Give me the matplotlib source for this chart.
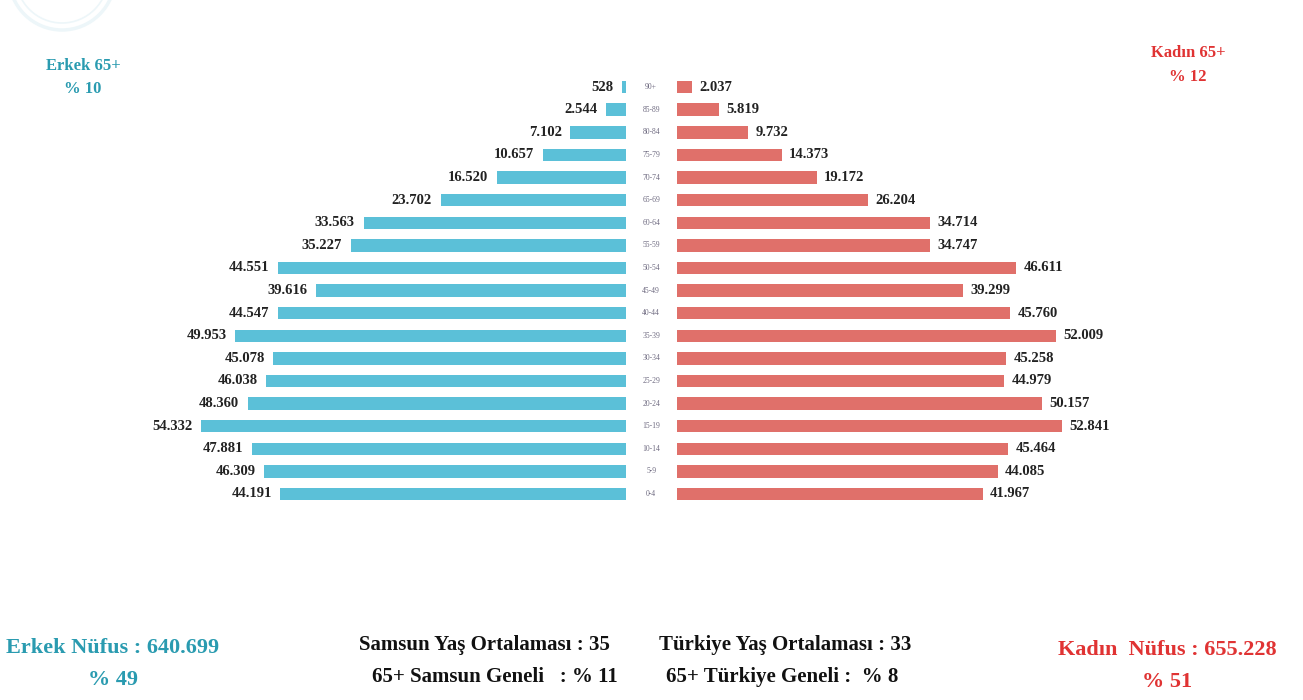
import matplotlib.pyplot as plt
from matplotlib.patches import Ellipse

plt.rcParams['font.family'] = ['Liberation Serif', 'DejaVu Serif']
plt.rcParams['font.weight'] = 'bold'

# age groups, from youngest to oldest
age_groups = ['0-4', '5-9', '10-14', '15-19', '20-24', '25-29', '30-34', '35-39',
              '40-44', '45-49', '50-54', '55-59', '60-64', '65-69', '70-74',
              '75-79', '80-84', '85-89', '90+']
male = [44191, 46309, 47881, 54332, 48360, 46038, 45078, 49953, 44547, 39616,
        44551, 35227, 33563, 23702, 16520, 10657, 7102, 2544, 528]
female = [41967, 44085, 45464, 52841, 50157, 44979, 45258, 52009, 45760, 39299,
          46611, 34747, 34714, 26204, 19172, 14373, 9732, 5819, 2037]

male_color = '#5bc0d8'
female_color = '#e0706a'
male_text = '#2a9bb0'
female_text = '#e03333'


def fmt(v):
    return f"{v:,}".replace(',', '.')


fig = plt.figure(figsize=(13.03, 7.0), dpi=100)
W, H = 1303, 700
span = 469  # axes width in pixels
male_max = span / 0.00782
female_max = span / 0.00728
bottom = (H - 505.3) / H
height = 429.5 / H

# faint logo watermark in the corner
for r, lw in [(53, 2.5), (46, 1.2)]:
    fig.patches.append(Ellipse((62 / W, 1 + 23 / H), 2 * r / W, 2 * r / H,
                               transform=fig.transFigure, fill=False,
                               ec='#edf6f9', lw=lw))

ax_m = fig.add_axes([(626 - span) / W, bottom, span / W, height])
ax_f = fig.add_axes([677 / W, bottom, span / W, height])

ypos = list(range(len(age_groups)))
ax_m.barh(ypos, male, height=0.55, color=male_color)
ax_f.barh(ypos, female, height=0.55, color=female_color)

ax_m.set_xlim(male_max, 0)
ax_f.set_xlim(0, female_max)
for ax in (ax_m, ax_f):
    ax.set_ylim(-0.5, len(age_groups) - 0.5)
    ax.axis('off')

for y, v in zip(ypos, male):
    ax_m.text(v + 1100, y, fmt(v), ha='right', va='center', fontsize=10.5,
              color='#222222', fontweight='bold')
for y, v in zip(ypos, female):
    ax_f.text(v + 1000, y, fmt(v), ha='left', va='center', fontsize=10.5,
              color='#222222', fontweight='bold')

# age labels between the two halves
for y, g in zip(ypos, age_groups):
    ax_f.text(-3550, y, g, ha='center', va='center', fontsize=5.5,
              color='#6e6a80', fontweight='normal', clip_on=False)

# annotations
fig.text(83 / W, 1 - 66 / H, 'Erkek 65+', ha='center', va='center', fontsize=12, color=male_text, fontweight='bold')
fig.text(83 / W, 1 - 89 / H, '% 10', ha='center', va='center', fontsize=12, color=male_text, fontweight='bold')
fig.text(1188 / W, 1 - 53 / H, 'Kadın 65+', ha='center', va='center', fontsize=12, color=female_text, fontweight='bold')
fig.text(1188 / W, 1 - 77 / H, '% 12', ha='center', va='center', fontsize=12, color=female_text, fontweight='bold')

fig.text(113 / W, 1 - 648 / H, 'Erkek Nüfus : 640.699', ha='center', va='center', fontsize=16, color=male_text, fontweight='bold')
fig.text(113 / W, 1 - 680 / H, '% 49', ha='center', va='center', fontsize=16, color=male_text, fontweight='bold')
fig.text(1167 / W, 1 - 650 / H, 'Kadın  Nüfus : 655.228', ha='center', va='center', fontsize=16, color=female_text, fontweight='bold')
fig.text(1167 / W, 1 - 682 / H, '% 51', ha='center', va='center', fontsize=16, color=female_text, fontweight='bold')

fig.text(484 / W, 1 - 645 / H, 'Samsun Yaş Ortalaması : 35', ha='center', va='center', fontsize=15, color='#111111', fontweight='bold')
fig.text(785 / W, 1 - 645 / H, 'Türkiye Yaş Ortalaması : 33', ha='center', va='center', fontsize=15, color='#111111', fontweight='bold')
fig.text(495 / W, 1 - 677 / H, '65+ Samsun Geneli   : % 11', ha='center', va='center', fontsize=15, color='#111111', fontweight='bold')
fig.text(782 / W, 1 - 677 / H, '65+ Türkiye Geneli :  % 8', ha='center', va='center', fontsize=15, color='#111111', fontweight='bold')

fig.savefig('out.png', dpi=100, facecolor='white')
